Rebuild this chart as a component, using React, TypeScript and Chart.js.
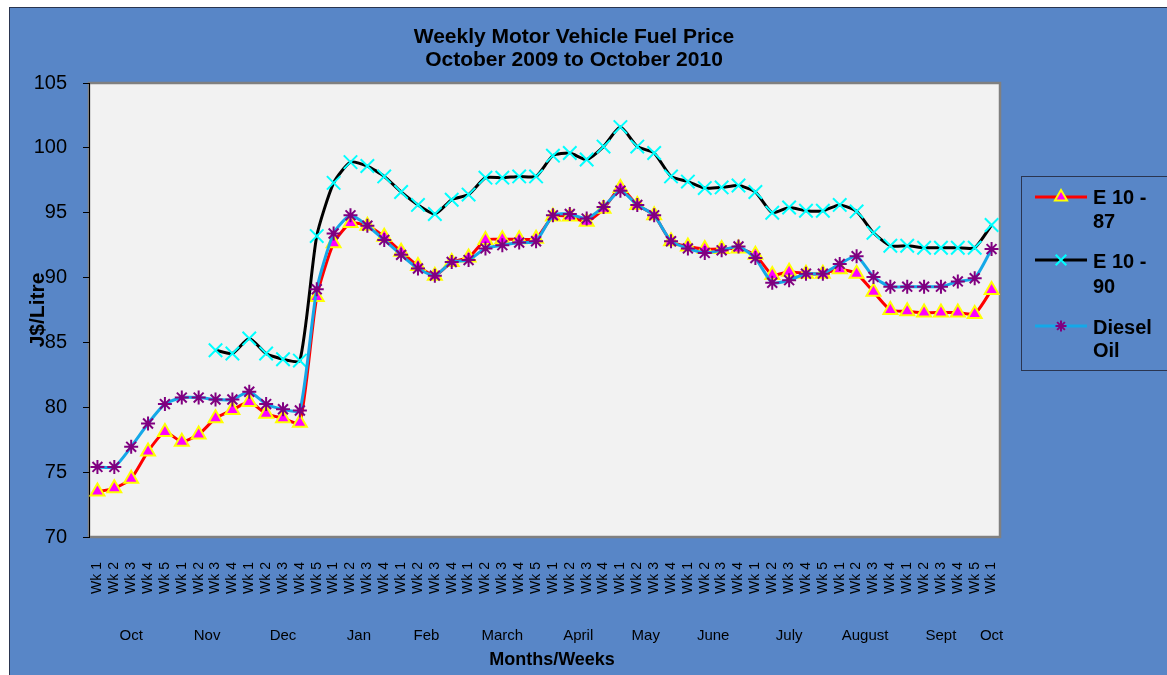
import React, { useEffect, useRef } from 'react';
import { Chart, registerables } from 'chart.js';
import { drawPoint } from 'chart.js/helpers';

Chart.register(...registerables);

const months = ['Oct', 'Nov', 'Dec', 'Jan', 'Feb', 'March', 'April', 'May', 'June', 'July', 'August', 'Sept', 'Oct'];
const weeksPerMonth = [5, 4, 5, 4, 4, 5, 4, 4, 4, 5, 4, 5, 1];
const weekLabels: string[] = weeksPerMonth.flatMap((n) => Array.from({ length: n }, (_, i) => `Wk ${i + 1}`));

const e1087 = [
  73.5, 73.75, 74.5, 76.6, 78.1, 77.35, 77.9, 79.15, 79.8, 80.4, 79.5, 79.15, 78.8, 88.5,
  92.65, 94.2, 94.0, 93.15, 92.0, 90.9, 90.15, 91.2, 91.55, 92.9, 92.95, 92.95, 93.0,
  94.7, 94.7, 94.3, 95.3, 96.9, 95.6, 94.8, 92.8, 92.4, 92.2, 92.2, 92.25, 91.75,
  90.2, 90.45, 90.3, 90.3, 90.65, 90.3, 88.9, 87.5, 87.4, 87.3, 87.3, 87.3, 87.2, 89.05,
];
const e1090 = [
  null, null, null, null, null, null, null, 84.4, 84.15, 85.3, 84.15, 83.7, 83.6, 93.2,
  97.3, 98.9, 98.6, 97.8, 96.6, 95.6, 94.9, 96.0, 96.4, 97.7, 97.7, 97.8, 97.8,
  99.4, 99.6, 99.1, 100.1, 101.6, 100.1, 99.6, 97.8, 97.4, 96.9, 96.95, 97.1, 96.6,
  95.0, 95.4, 95.15, 95.15, 95.6, 95.1, 93.45, 92.45, 92.45, 92.3, 92.3, 92.3, 92.3, 94.05,
];
const diesel = [
  75.4, 75.4, 76.95, 78.75, 80.25, 80.75, 80.75, 80.6, 80.6, 81.2, 80.25, 79.85, 79.75, 89.1,
  93.4, 94.8, 94.0, 92.9, 91.75, 90.7, 90.15, 91.2, 91.35, 92.25, 92.5, 92.7, 92.8,
  94.8, 94.9, 94.55, 95.45, 96.7, 95.6, 94.8, 92.8, 92.25, 91.9, 92.1, 92.4, 91.5,
  89.6, 89.8, 90.3, 90.3, 91.05, 91.65, 90.05, 89.3, 89.3, 89.3, 89.3, 89.7, 89.95, 92.2,
];

const titleLines = ['Weekly Motor Vehicle Fuel Price', 'October 2009 to October 2010'];
const yTitle = 'J$/Litre';
const xTitle = 'Months/Weeks';
const legendItems = [
  { lines: ['E 10 -', '87'], line: '#FF0000', fill: '#FF00FF', stroke: '#FFFF00', style: 'triangle', r: 7, bw: 2 },
  { lines: ['E 10 -', '90'], line: '#000000', fill: '#00FFFF', stroke: '#00FFFF', style: 'crossRot', r: 7.5, bw: 2 },
  { lines: ['Diesel', 'Oil'], line: '#14A8E8', fill: '#800080', stroke: '#800080', style: 'star', r: 5.5, bw: 2 },
];

const W = 1167;
const H = 675;
const FONT = 'Arial, "Liberation Sans", sans-serif';

const decor = {
  id: 'decor',
  beforeDraw(chart: any) {
    const { ctx, chartArea: a } = chart;
    ctx.save();
    ctx.fillStyle = '#FFFFFF';
    ctx.fillRect(0, 0, W, H);
    ctx.fillStyle = '#5886C7';
    ctx.fillRect(9, 7, W - 9, H - 7);
    ctx.strokeStyle = '#2A3550';
    ctx.lineWidth = 1;
    ctx.strokeRect(9.5, 7.5, W, H);
    ctx.fillStyle = '#F2F2F2';
    ctx.fillRect(a.left, a.top, a.right - a.left, a.bottom - a.top);
    ctx.strokeStyle = '#808080';
    ctx.lineWidth = 2.5;
    ctx.strokeRect(a.left, a.top, a.right - a.left, a.bottom - a.top);
    ctx.restore();
  },
  afterDraw(chart: any) {
    const { ctx } = chart;
    const xs = chart.scales.x;
    ctx.save();
    ctx.fillStyle = '#000000';
    ctx.font = `bold 21px ${FONT}`;
    ctx.textAlign = 'center';
    ctx.textBaseline = 'alphabetic';
    ctx.fillText(titleLines[0], 574, 43);
    ctx.fillText(titleLines[1], 574, 66);
    ctx.save();
    ctx.translate(44, 310);
    ctx.rotate(-Math.PI / 2);
    ctx.fillText(yTitle, 0, 0);
    ctx.restore();
    ctx.font = `15px ${FONT}`;
    let idx = 0;
    months.forEach((m, k) => {
      const first = xs.getPixelForValue(idx);
      const last = xs.getPixelForValue(idx + weeksPerMonth[k] - 1);
      ctx.fillText(m, (first + last) / 2, 640);
      idx += weeksPerMonth[k];
    });
    ctx.font = `bold 18px ${FONT}`;
    ctx.fillText(xTitle, 552, 665);
    ctx.strokeStyle = '#2A3550';
    ctx.lineWidth = 1;
    ctx.strokeRect(1021.5, 176.5, 170, 194);
    const lineYs = [197, 260, 326];
    const baseYs = [[204, 228], [268, 293], [334, 357]];
    legendItems.forEach((it, k) => {
      const y = lineYs[k];
      ctx.strokeStyle = it.line;
      ctx.lineWidth = 3;
      ctx.beginPath();
      ctx.moveTo(1035, y);
      ctx.lineTo(1087, y);
      ctx.stroke();
      ctx.fillStyle = it.fill;
      ctx.strokeStyle = it.stroke;
      ctx.lineWidth = it.bw;
      drawPoint(ctx, { pointStyle: it.style, radius: it.r, rotation: 0, borderWidth: it.bw } as any, 1061, y);
      ctx.fillStyle = '#000000';
      ctx.font = `bold 20px ${FONT}`;
      ctx.textAlign = 'left';
      ctx.fillText(it.lines[0], 1093, baseYs[k][0]);
      ctx.fillText(it.lines[1], 1093, baseYs[k][1]);
    });
    ctx.restore();
  },
};

export default function App() {
  const ref = useRef<HTMLCanvasElement | null>(null);
  useEffect(() => {
    if (!ref.current) return;
    const chart = new Chart(ref.current, {
      type: 'line',
      data: {
        labels: weekLabels,
        datasets: [
          {
            label: 'E 10 - 87',
            data: e1087,
            borderColor: '#FF0000',
            borderWidth: 3,
            tension: 0.2,
            pointStyle: 'triangle',
            pointRadius: 8,
            pointBackgroundColor: '#FF00FF',
            pointBorderColor: '#FFFF00',
            pointBorderWidth: 2,
            order: 3,
          },
          {
            label: 'E 10 - 90',
            data: e1090,
            borderColor: '#000000',
            borderWidth: 3,
            tension: 0.2,
            pointStyle: 'crossRot',
            pointRadius: 9.5,
            pointBackgroundColor: '#00FFFF',
            pointBorderColor: '#00FFFF',
            pointBorderWidth: 2,
            order: 2,
          },
          {
            label: 'Diesel Oil',
            data: diesel,
            borderColor: '#14A8E8',
            borderWidth: 3,
            tension: 0.2,
            pointStyle: 'star',
            pointRadius: 7,
            pointBackgroundColor: '#800080',
            pointBorderColor: '#800080',
            pointBorderWidth: 2,
            order: 1,
          },
        ],
      },
      options: {
        responsive: false,
        animation: false,
        devicePixelRatio: 1,
        layout: { padding: { left: 0, top: 83, right: 167, bottom: 0 } },
        plugins: {
          legend: { display: false },
          title: { display: false },
          tooltip: { enabled: false },
        },
        scales: {
          x: {
            type: 'category',
            offset: true,
            grid: { display: false, drawTicks: false, offset: true },
            border: { display: false },
            ticks: {
              autoSkip: false,
              minRotation: 90,
              maxRotation: 90,
              padding: 25,
              color: '#000000',
              font: { family: FONT, size: 14 },
            },
            afterFit: (s: any) => {
              s.height = 138;
            },
          },
          y: {
            min: 70,
            max: 105,
            ticks: {
              stepSize: 5,
              padding: 16,
              color: '#000000',
              font: { family: FONT, size: 20 },
            },
            grid: { drawOnChartArea: false, drawTicks: true, tickLength: 6, color: '#000000' },
            border: { display: true, color: '#000000', width: 1 },
            afterFit: (s: any) => {
              s.width = 89;
            },
          },
        },
      },
      plugins: [decor],
    });
    return () => chart.destroy();
  }, []);
  return (
    <div style={{ position: 'absolute', left: 0, top: 0, width: W, height: H }}>
      <canvas ref={ref} width={W} height={H} style={{ display: 'block' }} />
    </div>
  );
}
